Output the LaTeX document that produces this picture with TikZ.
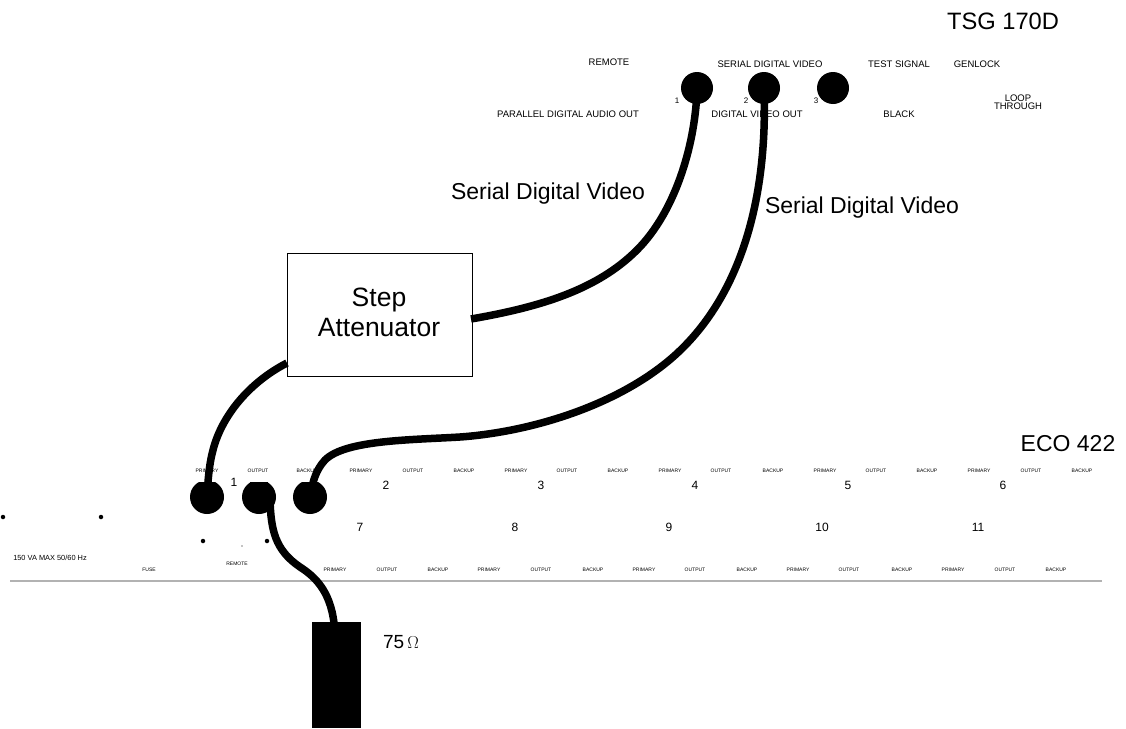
\documentclass[tikz,border=0pt]{standalone}
\usepackage{fontspec}
\setmainfont{Liberation Sans}
\newcommand{\szf}[1]{\fontsize{#1}{#1}\selectfont}
\tikzset{
  x=1pt,y=-1pt,
  jack/.style={circle,fill=black,draw=none,inner sep=0pt,minimum size=#1},
  cable/.style={line width=7.5pt,black},
  dotm/.style={circle,fill=black,inner sep=0pt,minimum size=4.5pt},
  tinylab/.style={inner sep=0pt,font=\szf{5}},
  toplab/.style={inner sep=0pt,font=\szf{9.5}},
  numlab/.style={inner sep=0pt,font=\szf{12}},
  caption/.style={inner sep=0pt,font=\szf{23}},
  rule/.style={line width=2pt,black!30},
}
\begin{document}
\begin{tikzpicture}
\useasboundingbox (0,0) rectangle (1126,728);
% TSG
\node[caption,font=\szf{23.7}] (tsg) at (1003,21) {TSG 170D};
\node[toplab] (tr) at (609,62.5) {REMOTE};
\node[toplab] (tsd) at (770,64.5) {SERIAL DIGITAL VIDEO};
\node[toplab] (tts) at (899,64.5) {TEST SIGNAL};
\node[toplab] (tgl) at (977,64.5) {GENLOCK};
\node[toplab] (tpd) at (568,114.5) {PARALLEL DIGITAL AUDIO OUT};
\node[toplab] (tdv) at (757,114.5) {DIGITAL VIDEO OUT};
\node[toplab] (tbl) at (899,114.5) {BLACK};
\node[toplab,align=center,font=\fontsize{9.5}{8}\selectfont] (tlt) at (1018,102) {LOOP\\THROUGH};
\node[toplab,font=\szf{8}] (n1) at (677,100.5) {1};
\node[toplab,font=\szf{8}] (n2) at (746,100.5) {2};
\node[toplab,font=\szf{8}] (n3) at (816,100.5) {3};
\node[jack=32pt] (ta) at (697,88) {};
\node[jack=32pt] (tb) at (764,88) {};
\node[jack=32pt] (tc) at (833,88) {};
% ECO labels
\foreach \i/\x/\t in {a/207/PRIMARY,b/258/OUTPUT,c/307/BACKUP,d/361/PRIMARY,e/413/OUTPUT,f/464/BACKUP,g/516/PRIMARY,h/567/OUTPUT,i/618/BACKUP,j/670/PRIMARY,k/721/OUTPUT,l/773/BACKUP,m/825/PRIMARY,n/876/OUTPUT,o/927/BACKUP,p/979/PRIMARY,q/1031/OUTPUT,r/1082/BACKUP}
  \node[tinylab] (u\i) at (\x,471) {\t};
\foreach \i/\x/\t in {a/335/PRIMARY,b/387/OUTPUT,c/438/BACKUP,d/489/PRIMARY,e/541/OUTPUT,f/593/BACKUP,g/644/PRIMARY,h/695/OUTPUT,i/747/BACKUP,j/798/PRIMARY,k/849/OUTPUT,l/902/BACKUP,m/953/PRIMARY,n/1005/OUTPUT,o/1056/BACKUP}
  \node[tinylab] (v\i) at (\x,569.5) {\t};
\foreach \i/\x/\y/\t in {a/234/482/1,b/386/485/2,c/541/485/3,d/695/485/4,e/848/485/5,f/1003/485/6,g/360/527/7,h/515/527/8,i/669/527/9,j/822/527/10,k/978/527/11}
  \node[numlab] (m\i) at (\x,\y) {\t};
\node[caption] (eco) at (1068,444) {ECO 422};
\node[tinylab,font=\szf{7.4}] (va) at (50,558) {150 VA MAX 50/60 Hz};
\node[tinylab] (fuse) at (149,569.5) {FUSE};
\node[tinylab] (rem) at (237,563.5) {REMOTE};
% line
\coordinate (la) at (10,581);
\coordinate (lb) at (1102,581);
\draw[rule] (la) -- (lb);
% jacks, flat on top
\begin{scope}
\clip (150,482) rectangle (350,530);
\node[jack=34pt] (ja) at (207,497) {};
\node[jack=34pt] (jb) at (259,497) {};
\node[jack=34pt] (jc) at (310,497) {};
\end{scope}
\fill (250,482) rectangle (268,490);
% dots
\node[dotm] (d1) at (3,517) {};
\node[dotm] (d2) at (101,517) {};
\node[dotm] (d3) at (203,541) {};
\node[dotm] (d4) at (267,541) {};
\node[dotm,minimum size=1.2pt] (d5) at (242,546) {};
% attenuator
\node[draw=black,line width=1pt,fill=white,minimum width=185pt,minimum height=123pt,inner sep=0pt,anchor=north west] (att) at (287,253) {};
\node[inner sep=0pt,align=center,font=\fontsize{26.5}{30}\selectfont] (attt) at (379,312) {Step\\Attenuator};
% load
\node[fill=black,minimum width=49pt,minimum height=106pt,inner sep=0pt,anchor=north west] (load) at (312,622) {};
\node[inner sep=0pt,font=\szf{19}] (ohm) at (401,642) {75\,$\Omega$};
% captions
\node[caption] (s1) at (548,194) {Serial Digital Video};
\node[caption] (s2) at (862,208) {Serial Digital Video};
% cables
\coordinate (a1) at (471,319);
\coordinate (a2) at (287,363);
\coordinate (jbo) at (270,500);
\coordinate (lt) at (334,623);
\draw[cable] (ta.center) .. controls (696,140) and (677,210) .. (637,250) .. controls (597,290) and (540,307) .. (a1);
\draw[cable] (tb.center) .. controls (768,200) and (740,298) .. (673,357) .. controls (617,406) and (530,432) .. (460,437) .. controls (410,440) and (345,440) .. (325,460) .. controls (316,470) and (313,480) .. (jc.center);
\draw[cable] (a2) .. controls (250,382) and (222,415) .. (213,450) .. controls (209,465) and (208,480) .. (ja.center);
\draw[cable] (jbo) .. controls (271,530) and (275,550) .. (300,567) .. controls (314,576) and (330,590) .. (lt);
\end{tikzpicture}
\end{document}
